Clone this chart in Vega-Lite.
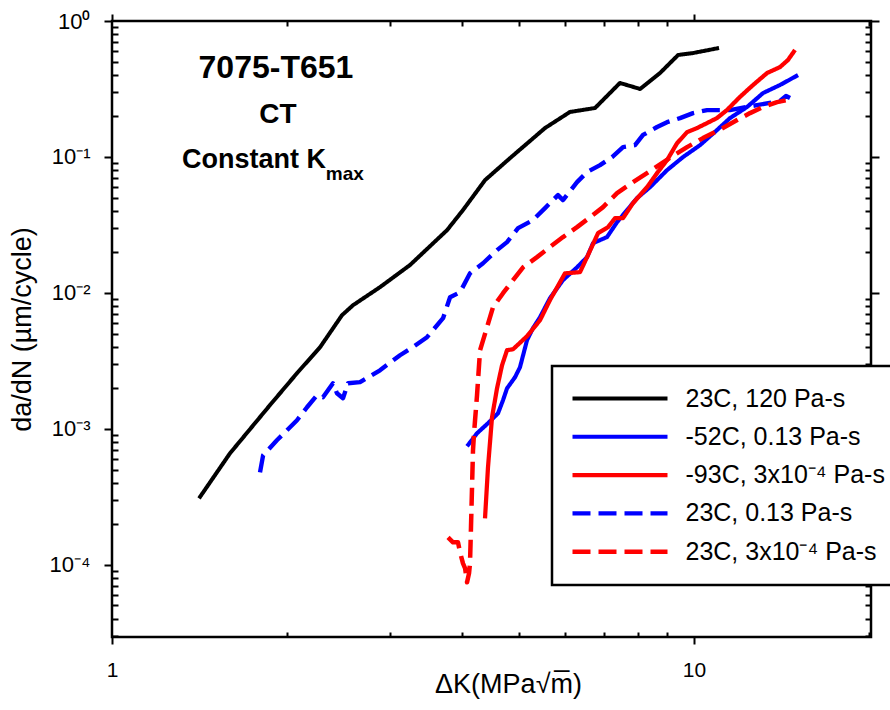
{
  "$schema": "https://vega.github.io/schema/vega-lite/v6.json",
  "autosize": "none",
  "padding": {"left": 112, "top": 21, "right": 19, "bottom": 73},
  "width": 759,
  "height": 616,
  "background": "white",
  "config": {
    "font": "Liberation Sans",
    "view": {"stroke": "black", "strokeWidth": 2.5},
    "axis": {"grid": false, "domain": false, "tickColor": "black", "tickWidth": 2, "labelColor": "black", "titleColor": "black"}
  },
  "datasets": {
    "curves": [
      {"series": "23C, 120 Pa-s", "i": 1, "dK": 1.411, "dadN": 0.000307},
      {"series": "23C, 120 Pa-s", "i": 2, "dK": 1.595, "dadN": 0.000659},
      {"series": "23C, 120 Pa-s", "i": 3, "dK": 1.868, "dadN": 0.00149},
      {"series": "23C, 120 Pa-s", "i": 4, "dK": 2.079, "dadN": 0.00256},
      {"series": "23C, 120 Pa-s", "i": 5, "dK": 2.278, "dadN": 0.00398},
      {"series": "23C, 120 Pa-s", "i": 6, "dK": 2.484, "dadN": 0.00684},
      {"series": "23C, 120 Pa-s", "i": 7, "dK": 2.595, "dadN": 0.0081},
      {"series": "23C, 120 Pa-s", "i": 8, "dK": 2.887, "dadN": 0.011},
      {"series": "23C, 120 Pa-s", "i": 9, "dK": 3.251, "dadN": 0.016},
      {"series": "23C, 120 Pa-s", "i": 10, "dK": 3.764, "dadN": 0.0289},
      {"series": "23C, 120 Pa-s", "i": 11, "dK": 4.009, "dadN": 0.0406},
      {"series": "23C, 120 Pa-s", "i": 12, "dK": 4.375, "dadN": 0.0675},
      {"series": "23C, 120 Pa-s", "i": 13, "dK": 4.83, "dadN": 0.098},
      {"series": "23C, 120 Pa-s", "i": 14, "dK": 5.546, "dadN": 0.163},
      {"series": "23C, 120 Pa-s", "i": 15, "dK": 6.12, "dadN": 0.214},
      {"series": "23C, 120 Pa-s", "i": 16, "dK": 6.76, "dadN": 0.229},
      {"series": "23C, 120 Pa-s", "i": 17, "dK": 7.46, "dadN": 0.35},
      {"series": "23C, 120 Pa-s", "i": 18, "dK": 8.08, "dadN": 0.316},
      {"series": "23C, 120 Pa-s", "i": 19, "dK": 8.74, "dadN": 0.414},
      {"series": "23C, 120 Pa-s", "i": 20, "dK": 9.39, "dadN": 0.562},
      {"series": "23C, 120 Pa-s", "i": 21, "dK": 9.96, "dadN": 0.581},
      {"series": "23C, 120 Pa-s", "i": 22, "dK": 11.04, "dadN": 0.633},

      {"series": "23C, 0.13 Pa-s", "i": 1, "dK": 1.796, "dadN": 0.000477},
      {"series": "23C, 0.13 Pa-s", "i": 2, "dK": 1.818, "dadN": 0.000637},
      {"series": "23C, 0.13 Pa-s", "i": 3, "dK": 1.92, "dadN": 0.000822},
      {"series": "23C, 0.13 Pa-s", "i": 4, "dK": 2.079, "dadN": 0.001153},
      {"series": "23C, 0.13 Pa-s", "i": 5, "dK": 2.163, "dadN": 0.001438},
      {"series": "23C, 0.13 Pa-s", "i": 6, "dK": 2.25, "dadN": 0.001762},
      {"series": "23C, 0.13 Pa-s", "i": 7, "dK": 2.304, "dadN": 0.001703},
      {"series": "23C, 0.13 Pa-s", "i": 8, "dK": 2.397, "dadN": 0.00216},
      {"series": "23C, 0.13 Pa-s", "i": 9, "dK": 2.435, "dadN": 0.001823},
      {"series": "23C, 0.13 Pa-s", "i": 10, "dK": 2.494, "dadN": 0.001675},
      {"series": "23C, 0.13 Pa-s", "i": 11, "dK": 2.544, "dadN": 0.00216},
      {"series": "23C, 0.13 Pa-s", "i": 12, "dK": 2.668, "dadN": 0.0022},
      {"series": "23C, 0.13 Pa-s", "i": 13, "dK": 2.887, "dadN": 0.00269},
      {"series": "23C, 0.13 Pa-s", "i": 14, "dK": 3.125, "dadN": 0.00347},
      {"series": "23C, 0.13 Pa-s", "i": 15, "dK": 3.289, "dadN": 0.00398},
      {"series": "23C, 0.13 Pa-s", "i": 16, "dK": 3.477, "dadN": 0.00471},
      {"series": "23C, 0.13 Pa-s", "i": 17, "dK": 3.705, "dadN": 0.0065},
      {"series": "23C, 0.13 Pa-s", "i": 18, "dK": 3.809, "dadN": 0.00928},
      {"series": "23C, 0.13 Pa-s", "i": 19, "dK": 3.963, "dadN": 0.0101},
      {"series": "23C, 0.13 Pa-s", "i": 20, "dK": 4.122, "dadN": 0.0139},
      {"series": "23C, 0.13 Pa-s", "i": 21, "dK": 4.34, "dadN": 0.0165},
      {"series": "23C, 0.13 Pa-s", "i": 22, "dK": 4.587, "dadN": 0.0206},
      {"series": "23C, 0.13 Pa-s", "i": 23, "dK": 4.772, "dadN": 0.0236},
      {"series": "23C, 0.13 Pa-s", "i": 24, "dK": 4.985, "dadN": 0.0299},
      {"series": "23C, 0.13 Pa-s", "i": 25, "dK": 5.288, "dadN": 0.0343},
      {"series": "23C, 0.13 Pa-s", "i": 26, "dK": 5.546, "dadN": 0.042},
      {"series": "23C, 0.13 Pa-s", "i": 27, "dK": 5.838, "dadN": 0.0523},
      {"series": "23C, 0.13 Pa-s", "i": 28, "dK": 5.955, "dadN": 0.0481},
      {"series": "23C, 0.13 Pa-s", "i": 29, "dK": 6.295, "dadN": 0.0652},
      {"series": "23C, 0.13 Pa-s", "i": 30, "dK": 6.55, "dadN": 0.0773},
      {"series": "23C, 0.13 Pa-s", "i": 31, "dK": 6.895, "dadN": 0.087},
      {"series": "23C, 0.13 Pa-s", "i": 32, "dK": 7.232, "dadN": 0.0997},
      {"series": "23C, 0.13 Pa-s", "i": 33, "dK": 7.551, "dadN": 0.118},
      {"series": "23C, 0.13 Pa-s", "i": 34, "dK": 7.918, "dadN": 0.122},
      {"series": "23C, 0.13 Pa-s", "i": 35, "dK": 8.173, "dadN": 0.145},
      {"series": "23C, 0.13 Pa-s", "i": 36, "dK": 8.64, "dadN": 0.166},
      {"series": "23C, 0.13 Pa-s", "i": 37, "dK": 8.988, "dadN": 0.18},
      {"series": "23C, 0.13 Pa-s", "i": 38, "dK": 9.462, "dadN": 0.193},
      {"series": "23C, 0.13 Pa-s", "i": 39, "dK": 9.96, "dadN": 0.21},
      {"series": "23C, 0.13 Pa-s", "i": 40, "dK": 10.53, "dadN": 0.221},
      {"series": "23C, 0.13 Pa-s", "i": 41, "dK": 11.53, "dadN": 0.221},
      {"series": "23C, 0.13 Pa-s", "i": 42, "dK": 12.83, "dadN": 0.2406},
      {"series": "23C, 0.13 Pa-s", "i": 43, "dK": 14.05, "dadN": 0.2576},
      {"series": "23C, 0.13 Pa-s", "i": 44, "dK": 14.39, "dadN": 0.2804},
      {"series": "23C, 0.13 Pa-s", "i": 45, "dK": 14.62, "dadN": 0.271},

      {"series": "-52C, 0.13 Pa-s", "i": 1, "dK": 4.074, "dadN": 0.000742},
      {"series": "-52C, 0.13 Pa-s", "i": 2, "dK": 4.238, "dadN": 0.000925},
      {"series": "-52C, 0.13 Pa-s", "i": 3, "dK": 4.426, "dadN": 0.001096},
      {"series": "-52C, 0.13 Pa-s", "i": 4, "dK": 4.605, "dadN": 0.001298},
      {"series": "-52C, 0.13 Pa-s", "i": 5, "dK": 4.697, "dadN": 0.00162},
      {"series": "-52C, 0.13 Pa-s", "i": 6, "dK": 4.772, "dadN": 0.00198},
      {"series": "-52C, 0.13 Pa-s", "i": 7, "dK": 4.925, "dadN": 0.00239},
      {"series": "-52C, 0.13 Pa-s", "i": 8, "dK": 5.023, "dadN": 0.00283},
      {"series": "-52C, 0.13 Pa-s", "i": 9, "dK": 5.165, "dadN": 0.00448},
      {"series": "-52C, 0.13 Pa-s", "i": 10, "dK": 5.288, "dadN": 0.00549},
      {"series": "-52C, 0.13 Pa-s", "i": 11, "dK": 5.437, "dadN": 0.00661},
      {"series": "-52C, 0.13 Pa-s", "i": 12, "dK": 5.655, "dadN": 0.00912},
      {"series": "-52C, 0.13 Pa-s", "i": 13, "dK": 5.955, "dadN": 0.0124},
      {"series": "-52C, 0.13 Pa-s", "i": 14, "dK": 6.295, "dadN": 0.0154},
      {"series": "-52C, 0.13 Pa-s", "i": 15, "dK": 6.55, "dadN": 0.0183},
      {"series": "-52C, 0.13 Pa-s", "i": 16, "dK": 6.707, "dadN": 0.0232},
      {"series": "-52C, 0.13 Pa-s", "i": 17, "dK": 7.088, "dadN": 0.0257},
      {"series": "-52C, 0.13 Pa-s", "i": 18, "dK": 7.375, "dadN": 0.0331},
      {"series": "-52C, 0.13 Pa-s", "i": 19, "dK": 7.672, "dadN": 0.0406},
      {"series": "-52C, 0.13 Pa-s", "i": 20, "dK": 7.98, "dadN": 0.0497},
      {"series": "-52C, 0.13 Pa-s", "i": 21, "dK": 8.404, "dadN": 0.0599},
      {"series": "-52C, 0.13 Pa-s", "i": 22, "dK": 8.988, "dadN": 0.0799},
      {"series": "-52C, 0.13 Pa-s", "i": 23, "dK": 9.574, "dadN": 0.0997},
      {"series": "-52C, 0.13 Pa-s", "i": 24, "dK": 10.24, "dadN": 0.122},
      {"series": "-52C, 0.13 Pa-s", "i": 25, "dK": 10.95, "dadN": 0.1575},
      {"series": "-52C, 0.13 Pa-s", "i": 26, "dK": 11.53, "dadN": 0.193},
      {"series": "-52C, 0.13 Pa-s", "i": 27, "dK": 12.33, "dadN": 0.2326},
      {"series": "-52C, 0.13 Pa-s", "i": 28, "dK": 13.14, "dadN": 0.295},
      {"series": "-52C, 0.13 Pa-s", "i": 29, "dK": 14.05, "dadN": 0.338},
      {"series": "-52C, 0.13 Pa-s", "i": 30, "dK": 15.09, "dadN": 0.4},

      {"series": "23C, 3x10⁻⁴ Pa-s", "i": 1, "dK": 3.779, "dadN": 0.0001585},
      {"series": "23C, 3x10⁻⁴ Pa-s", "i": 2, "dK": 3.854, "dadN": 0.0001457},
      {"series": "23C, 3x10⁻⁴ Pa-s", "i": 3, "dK": 3.931, "dadN": 0.0001457},
      {"series": "23C, 3x10⁻⁴ Pa-s", "i": 4, "dK": 3.963, "dadN": 0.000123},
      {"series": "23C, 3x10⁻⁴ Pa-s", "i": 5, "dK": 4.009, "dadN": 0.000102},
      {"series": "23C, 3x10⁻⁴ Pa-s", "i": 6, "dK": 4.043, "dadN": 0.0000938},
      {"series": "23C, 3x10⁻⁴ Pa-s", "i": 7, "dK": 4.074, "dadN": 0.000074},
      {"series": "23C, 3x10⁻⁴ Pa-s", "i": 8, "dK": 4.106, "dadN": 0.0000861},
      {"series": "23C, 3x10⁻⁴ Pa-s", "i": 9, "dK": 4.122, "dadN": 0.000102},
      {"series": "23C, 3x10⁻⁴ Pa-s", "i": 10, "dK": 4.138, "dadN": 0.000188},
      {"series": "23C, 3x10⁻⁴ Pa-s", "i": 11, "dK": 4.155, "dadN": 0.00037},
      {"series": "23C, 3x10⁻⁴ Pa-s", "i": 12, "dK": 4.171, "dadN": 0.000693},
      {"series": "23C, 3x10⁻⁴ Pa-s", "i": 13, "dK": 4.188, "dadN": 0.000925},
      {"series": "23C, 3x10⁻⁴ Pa-s", "i": 14, "dK": 4.205, "dadN": 0.001153},
      {"series": "23C, 3x10⁻⁴ Pa-s", "i": 15, "dK": 4.238, "dadN": 0.001762},
      {"series": "23C, 3x10⁻⁴ Pa-s", "i": 16, "dK": 4.289, "dadN": 0.00378},
      {"series": "23C, 3x10⁻⁴ Pa-s", "i": 17, "dK": 4.409, "dadN": 0.00558},
      {"series": "23C, 3x10⁻⁴ Pa-s", "i": 18, "dK": 4.515, "dadN": 0.00783},
      {"series": "23C, 3x10⁻⁴ Pa-s", "i": 19, "dK": 4.697, "dadN": 0.00993},
      {"series": "23C, 3x10⁻⁴ Pa-s", "i": 20, "dK": 4.887, "dadN": 0.0124},
      {"series": "23C, 3x10⁻⁴ Pa-s", "i": 21, "dK": 5.084, "dadN": 0.0154},
      {"series": "23C, 3x10⁻⁴ Pa-s", "i": 22, "dK": 5.373, "dadN": 0.0183},
      {"series": "23C, 3x10⁻⁴ Pa-s", "i": 23, "dK": 5.655, "dadN": 0.0217},
      {"series": "23C, 3x10⁻⁴ Pa-s", "i": 24, "dK": 5.955, "dadN": 0.0257},
      {"series": "23C, 3x10⁻⁴ Pa-s", "i": 25, "dK": 6.295, "dadN": 0.0304},
      {"series": "23C, 3x10⁻⁴ Pa-s", "i": 26, "dK": 6.628, "dadN": 0.036},
      {"series": "23C, 3x10⁻⁴ Pa-s", "i": 27, "dK": 6.977, "dadN": 0.0427},
      {"series": "23C, 3x10⁻⁴ Pa-s", "i": 28, "dK": 7.375, "dadN": 0.0541},
      {"series": "23C, 3x10⁻⁴ Pa-s", "i": 29, "dK": 7.856, "dadN": 0.0652},
      {"series": "23C, 3x10⁻⁴ Pa-s", "i": 30, "dK": 8.404, "dadN": 0.0786},
      {"series": "23C, 3x10⁻⁴ Pa-s", "i": 31, "dK": 9.023, "dadN": 0.0964},
      {"series": "23C, 3x10⁻⁴ Pa-s", "i": 32, "dK": 9.727, "dadN": 0.118},
      {"series": "23C, 3x10⁻⁴ Pa-s", "i": 33, "dK": 10.36, "dadN": 0.1375},
      {"series": "23C, 3x10⁻⁴ Pa-s", "i": 34, "dK": 10.78, "dadN": 0.1497},
      {"series": "23C, 3x10⁻⁴ Pa-s", "i": 35, "dK": 11.21, "dadN": 0.163},
      {"series": "23C, 3x10⁻⁴ Pa-s", "i": 36, "dK": 11.86, "dadN": 0.1866},
      {"series": "23C, 3x10⁻⁴ Pa-s", "i": 37, "dK": 12.48, "dadN": 0.21},
      {"series": "23C, 3x10⁻⁴ Pa-s", "i": 38, "dK": 13.14, "dadN": 0.2326},
      {"series": "23C, 3x10⁻⁴ Pa-s", "i": 39, "dK": 13.89, "dadN": 0.253},
      {"series": "23C, 3x10⁻⁴ Pa-s", "i": 40, "dK": 14.45, "dadN": 0.262},

      {"series": "-93C, 3x10⁻⁴ Pa-s", "i": 1, "dK": 4.374, "dadN": 0.000219},
      {"series": "-93C, 3x10⁻⁴ Pa-s", "i": 2, "dK": 4.426, "dadN": 0.00052},
      {"series": "-93C, 3x10⁻⁴ Pa-s", "i": 3, "dK": 4.497, "dadN": 0.001213},
      {"series": "-93C, 3x10⁻⁴ Pa-s", "i": 4, "dK": 4.587, "dadN": 0.00198},
      {"series": "-93C, 3x10⁻⁴ Pa-s", "i": 5, "dK": 4.679, "dadN": 0.00293},
      {"series": "-93C, 3x10⁻⁴ Pa-s", "i": 6, "dK": 4.772, "dadN": 0.00378},
      {"series": "-93C, 3x10⁻⁴ Pa-s", "i": 7, "dK": 4.887, "dadN": 0.00384},
      {"series": "-93C, 3x10⁻⁴ Pa-s", "i": 8, "dK": 5.165, "dadN": 0.00479},
      {"series": "-93C, 3x10⁻⁴ Pa-s", "i": 9, "dK": 5.437, "dadN": 0.00628},
      {"series": "-93C, 3x10⁻⁴ Pa-s", "i": 10, "dK": 5.655, "dadN": 0.00882},
      {"series": "-93C, 3x10⁻⁴ Pa-s", "i": 11, "dK": 6.002, "dadN": 0.0139},
      {"series": "-93C, 3x10⁻⁴ Pa-s", "i": 12, "dK": 6.37, "dadN": 0.0142},
      {"series": "-93C, 3x10⁻⁴ Pa-s", "i": 13, "dK": 6.55, "dadN": 0.0183},
      {"series": "-93C, 3x10⁻⁴ Pa-s", "i": 14, "dK": 6.841, "dadN": 0.0275},
      {"series": "-93C, 3x10⁻⁴ Pa-s", "i": 15, "dK": 7.117, "dadN": 0.0304},
      {"series": "-93C, 3x10⁻⁴ Pa-s", "i": 16, "dK": 7.316, "dadN": 0.0354},
      {"series": "-93C, 3x10⁻⁴ Pa-s", "i": 17, "dK": 7.551, "dadN": 0.0354},
      {"series": "-93C, 3x10⁻⁴ Pa-s", "i": 18, "dK": 7.856, "dadN": 0.0457},
      {"series": "-93C, 3x10⁻⁴ Pa-s", "i": 19, "dK": 8.305, "dadN": 0.0599},
      {"series": "-93C, 3x10⁻⁴ Pa-s", "i": 20, "dK": 8.64, "dadN": 0.076},
      {"series": "-93C, 3x10⁻⁴ Pa-s", "i": 21, "dK": 8.988, "dadN": 0.0947},
      {"series": "-93C, 3x10⁻⁴ Pa-s", "i": 22, "dK": 9.35, "dadN": 0.126},
      {"series": "-93C, 3x10⁻⁴ Pa-s", "i": 23, "dK": 9.727, "dadN": 0.152},
      {"series": "-93C, 3x10⁻⁴ Pa-s", "i": 24, "dK": 10.12, "dadN": 0.163},
      {"series": "-93C, 3x10⁻⁴ Pa-s", "i": 25, "dK": 10.53, "dadN": 0.1774},
      {"series": "-93C, 3x10⁻⁴ Pa-s", "i": 26, "dK": 10.95, "dadN": 0.193},
      {"series": "-93C, 3x10⁻⁴ Pa-s", "i": 27, "dK": 11.39, "dadN": 0.221},
      {"series": "-93C, 3x10⁻⁴ Pa-s", "i": 28, "dK": 11.99, "dadN": 0.276},
      {"series": "-93C, 3x10⁻⁴ Pa-s", "i": 29, "dK": 12.63, "dadN": 0.338},
      {"series": "-93C, 3x10⁻⁴ Pa-s", "i": 30, "dK": 13.35, "dadN": 0.414},
      {"series": "-93C, 3x10⁻⁴ Pa-s", "i": 31, "dK": 14.05, "dadN": 0.458},
      {"series": "-93C, 3x10⁻⁴ Pa-s", "i": 32, "dK": 14.5, "dadN": 0.516},
      {"series": "-93C, 3x10⁻⁴ Pa-s", "i": 33, "dK": 14.91, "dadN": 0.612}
    ]
  },
  "resolve": {"axis": {"x": "independent", "y": "independent"}},
  "layer": [
    {
      "data": {"name": "curves"},
      "mark": {"type": "line", "strokeCap": "butt", "strokeJoin": "round"},
      "encoding": {
        "x": {
          "field": "dK", "type": "quantitative",
          "scale": {"type": "log", "domain": [1, 20.14], "nice": false},
          "axis": {
            "orient": "bottom",
            "title": "ΔK(MPa√m̅)",
            "titleFont": "Liberation Sans", "titleFontSize": 27, "titleFontWeight": "normal",
            "titleX": 396, "titleY": 55, "titleBaseline": "alphabetic", "titleAlign": "center", "titleAnchor": null,
            "labelExpr": "datum.value == 1 ? '1' : (datum.value == 10 ? '10' : '')",
            "labelFontSize": 21, "labelPadding": 15, "labelFlush": false, "labelOverlap": false,
            "tickSize": {"condition": {"test": "abs(log(datum.value)/LN10 - round(log(datum.value)/LN10)) < 0.001", "value": 7}, "value": -5}
          }
        },
        "y": {
          "field": "dadN", "type": "quantitative",
          "scale": {"type": "log", "domain": [0.0000293, 1], "nice": false},
          "axis": {
            "orient": "left",
            "title": "da/dN (µm/cycle)",
            "titleFont": "Liberation Sans", "titleFontSize": 27, "titleFontWeight": "normal",
            "titleAngle": -90, "titleX": -82, "titleY": 308, "titleBaseline": "alphabetic", "titleAlign": "center", "titleAnchor": null,
            "labelExpr": "abs(log(datum.value)/LN10 - round(log(datum.value)/LN10)) < 0.001 ? ['10⁻⁴','10⁻³','10⁻²','10⁻¹','10⁰'][round(log(datum.value)/LN10) + 4] : ''",
            "labelFontSize": 22, "labelPadding": 14, "labelFlush": false, "labelOverlap": false,
            "tickSize": {"condition": {"test": "abs(log(datum.value)/LN10 - round(log(datum.value)/LN10)) < 0.001", "value": 8}, "value": -6}
          }
        },
        "color": {
          "field": "series", "type": "nominal", "title": null,
          "scale": {
            "domain": ["23C, 120 Pa-s", "-52C, 0.13 Pa-s", "-93C, 3x10⁻⁴ Pa-s", "23C, 0.13 Pa-s", "23C, 3x10⁻⁴ Pa-s"],
            "range": ["#000000", "#0000ff", "#ff0000", "#0000ff", "#ff0000"]
          },
          "legend": {
            "orient": "none", "legendX": 440, "legendY": 345,
            "symbolType": "M-5,0H5", "symbolSize": 361, "symbolOffset": 35.5,
            "labelOffset": 53, "labelFontSize": 25, "labelFont": "Liberation Sans", "labelColor": "black", "labelLimit": 400,
            "rowPadding": 12.3, "padding": 20,
            "fillColor": "white", "strokeColor": "black",
            "encode": {"legend": {"update": {"strokeWidth": {"value": 2.5}}}}
          }
        },
        "strokeDash": {
          "field": "series", "type": "nominal", "title": null,
          "scale": {
            "domain": ["23C, 120 Pa-s", "-52C, 0.13 Pa-s", "-93C, 3x10⁻⁴ Pa-s", "23C, 0.13 Pa-s", "23C, 3x10⁻⁴ Pa-s"],
            "range": [[1, 0], [1, 0], [1, 0], [18, 8], [18, 8]]
          }
        },
        "strokeWidth": {
          "field": "series", "type": "nominal", "title": null,
          "scale": {
            "domain": ["23C, 120 Pa-s", "-52C, 0.13 Pa-s", "-93C, 3x10⁻⁴ Pa-s", "23C, 0.13 Pa-s", "23C, 3x10⁻⁴ Pa-s"],
            "range": [4, 4.5, 4.5, 3.5, 3.5]
          }
        },
        "order": {"field": "i", "type": "quantitative"}
      }
    },
    {
      "data": {"values": [{"label": "7075-T651", "dK": 1.913, "dadN": 0.3804}]},
      "mark": {"type": "text", "font": "Liberation Sans", "fontSize": 32, "fontWeight": "bold", "align": "center", "baseline": "alphabetic", "color": "black"},
      "encoding": {
        "x": {
          "field": "dK", "type": "quantitative",
          "scale": {"type": "log", "domain": [1, 20.14], "nice": false},
          "axis": {
            "orient": "top", "title": null, "labels": false,
            "tickSize": {"condition": {"test": "abs(log(datum.value)/LN10 - round(log(datum.value)/LN10)) < 0.001", "value": 7}, "value": -5}
          }
        },
        "y": {
          "field": "dadN", "type": "quantitative",
          "scale": {"type": "log", "domain": [0.0000293, 1], "nice": false},
          "axis": {
            "orient": "right", "title": null, "labels": false,
            "tickSize": {"condition": {"test": "abs(log(datum.value)/LN10 - round(log(datum.value)/LN10)) < 0.001", "value": 8}, "value": -6}
          }
        },
        "text": {"field": "label"}
      }
    },
    {
      "data": {"values": [{"label": "CT", "dK": 1.928, "dadN": 0.1774}]},
      "mark": {"type": "text", "font": "Liberation Sans", "fontSize": 28, "fontWeight": "bold", "align": "center", "baseline": "alphabetic", "color": "black"},
      "encoding": {
        "x": {"field": "dK", "type": "quantitative", "scale": {"type": "log", "domain": [1, 20.14], "nice": false}, "axis": null},
        "y": {"field": "dadN", "type": "quantitative", "scale": {"type": "log", "domain": [0.0000293, 1], "nice": false}, "axis": null},
        "text": {"field": "label"}
      }
    },
    {
      "data": {"values": [{"label": "Constant K", "dK": 1.319, "dadN": 0.0827}]},
      "mark": {"type": "text", "font": "Liberation Sans", "fontSize": 27, "fontWeight": "bold", "align": "left", "baseline": "alphabetic", "color": "black"},
      "encoding": {
        "x": {"field": "dK", "type": "quantitative", "scale": {"type": "log", "domain": [1, 20.14], "nice": false}, "axis": null},
        "y": {"field": "dadN", "type": "quantitative", "scale": {"type": "log", "domain": [0.0000293, 1], "nice": false}, "axis": null},
        "text": {"field": "label"}
      }
    },
    {
      "data": {"values": [{"label": "max", "dK": 2.33, "dadN": 0.0675}]},
      "mark": {"type": "text", "font": "Liberation Sans", "fontSize": 19, "fontWeight": "bold", "align": "left", "baseline": "alphabetic", "color": "black"},
      "encoding": {
        "x": {"field": "dK", "type": "quantitative", "scale": {"type": "log", "domain": [1, 20.14], "nice": false}, "axis": null},
        "y": {"field": "dadN", "type": "quantitative", "scale": {"type": "log", "domain": [0.0000293, 1], "nice": false}, "axis": null},
        "text": {"field": "label"}
      }
    }
  ]
}
